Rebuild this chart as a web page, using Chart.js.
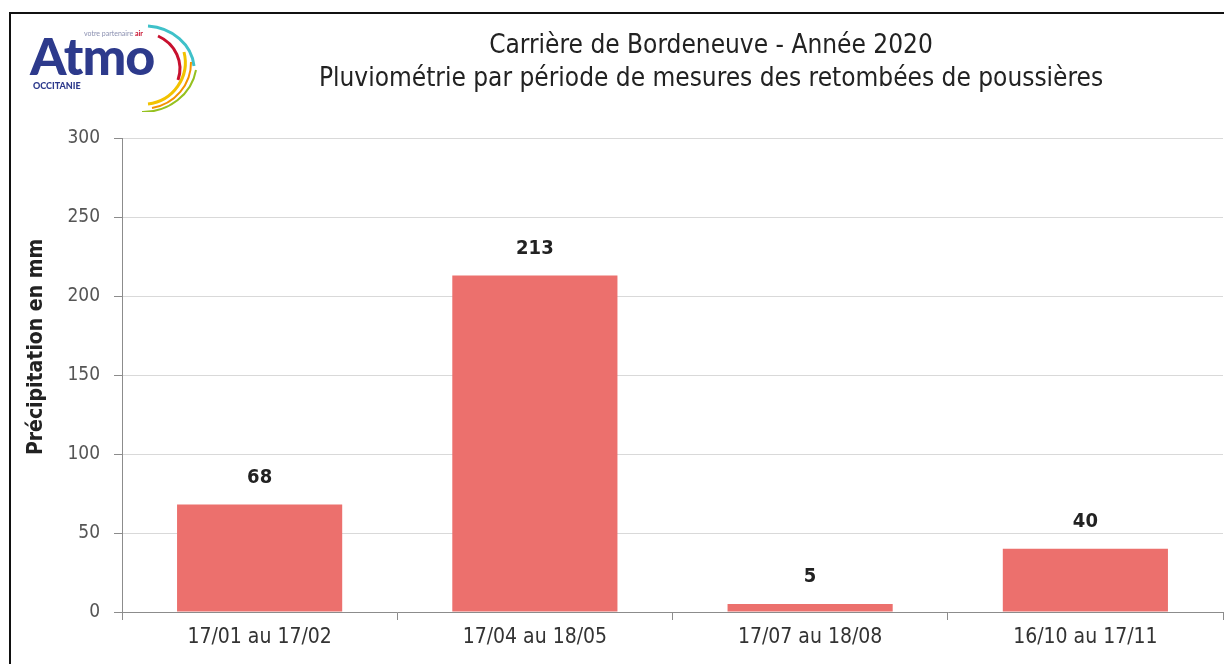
<!DOCTYPE html>
<html>
<head>
<meta charset="utf-8">
<script src="https://cdn.jsdelivr.net/npm/chart.js@4/dist/chart.umd.min.js"></script>
<style>
  html, body { margin: 0; padding: 0; background: #fff; }
  #wrap { position: relative; width: 1224px; height: 664px; overflow: hidden; }
  #frame { position: absolute; left: 9px; top: 12px; width: 1300px; height: 700px;
           border-left: 2px solid #111; border-top: 2px solid #111; }
  #myChart { position: absolute; left: 0; top: 0; }
  #titre { position: absolute; left: 311px; top: 28px; width: 800px; text-align: center;
           font-family: "Liberation Sans Narrow", "Arial Narrow", "DejaVu Sans Condensed", sans-serif;
           font-size: 26px; line-height: 33px; color: #222; }
  #logo { position: absolute; left: 28px; top: 22px; width: 180px; height: 90px; }
  #logo .atmo { position: absolute; left: 2px; top: 2px; font-family: Lato, sans-serif; font-weight: 900;
                font-size: 52px; color: #2d3a8c; letter-spacing: -1px; }
  #logo .occ { position: absolute; left: 5px; top: 58px; font-family: Lato, sans-serif; font-weight: 900;
               font-size: 9px; color: #2d3a8c; }
  #logo .vp { position: absolute; left: 56px; top: 7px; font-family: Lato, sans-serif;
              font-size: 7px; color: #8a8fb0; }
  #logo .vp b { color: #c8102e; }
  #logo svg { position: absolute; left: 0; top: 0; }
</style>
</head>
<body>
<div id="wrap">
  <canvas id="myChart" width="1224" height="664"></canvas>
  <div id="frame"></div>
  <div id="logo">
    <svg width="180" height="90">
      <path d="M 120 4 A 50 44 0 0 1 166 44" fill="none" stroke="#3fc1c9" stroke-width="3"/>
      <path d="M 130 14 A 38 36 0 0 1 150 58" fill="none" stroke="#c8102e" stroke-width="3"/>
      <path d="M 156 30 A 42 42 0 0 1 120 82" fill="none" stroke="#f2c200" stroke-width="3"/>
      <path d="M 163 40 A 48 46 0 0 1 124 86" fill="none" stroke="#f39200" stroke-width="2"/>
      <path d="M 168 48 A 54 50 0 0 1 114 90" fill="none" stroke="#95c11f" stroke-width="2"/>
    </svg>
    <div class="vp">votre partenaire <b>air</b></div>
    <div class="atmo">Atmo</div>
    <div class="occ">OCCITANIE</div>
  </div>
  <div id="titre">Carrière de Bordeneuve - Année 2020<br>Pluviométrie par période de mesures des retombées de poussières</div>
</div>
<script>
var periodes = ['17/01 au 17/02', '17/04 au 18/05', '17/07 au 18/08', '16/10 au 17/11'];
var pluie = [68, 213, 5, 40];
var yTicks = [0, 50, 100, 150, 200, 250, 300];
var titreY = 'Précipitation en mm';

var police = '"Liberation Sans Narrow", "Arial Narrow", "DejaVu Sans Condensed", sans-serif';

// valeurs au-dessus des barres + titre de l'axe Y
var etiquettes = {
    id: 'etiquettes',
    afterDatasetsDraw: function(chart) {
        var ctx = chart.ctx;
        var meta = chart.getDatasetMeta(0);
        ctx.save();
        ctx.font = 'bold 20px ' + police;
        ctx.fillStyle = '#222';
        ctx.textAlign = 'center';
        ctx.textBaseline = 'middle';
        meta.data.forEach(function(bar, i) {
            ctx.fillText(pluie[i], bar.x, bar.y - 27);
        });
        var area = chart.chartArea;
        ctx.translate(37, (area.top + area.bottom) / 2 - 28);
        ctx.rotate(-Math.PI / 2);
        ctx.font = 'bold 21px ' + police;
        ctx.fillText(titreY, 0, 0);
        ctx.restore();
    }
};

var ctx = document.getElementById('myChart').getContext('2d');
var chart = new Chart(ctx, {
    type: 'bar',
    data: {
        labels: periodes,
        datasets: [{
            data: pluie,
            backgroundColor: '#ec706d',
            borderWidth: 0,
            categoryPercentage: 1,
            barPercentage: 0.6
        }]
    },
    options: {
        responsive: false,
        animation: false,
        layout: { padding: { left: 0, right: 1, top: 138, bottom: 0 } },
        plugins: {
            legend: { display: false },
            tooltip: { enabled: false }
        },
        scales: {
            x: {
                afterFit: function(s) { s.height = 52; },
                grid: { drawOnChartArea: false, drawTicks: true, tickLength: 8, color: '#8c8c8c', offset: true },
                border: { color: '#8c8c8c' },
                ticks: { color: '#333', padding: 5, font: { family: police, size: 21 } }
            },
            y: {
                min: 0,
                max: 300,
                afterFit: function(s) { s.width = 122; },
                afterBuildTicks: function(s) { s.ticks = yTicks.map(function(v) { return { value: v }; }); },
                grid: { color: '#d9d9d9', tickColor: '#8c8c8c', tickLength: 8 },
                border: { color: '#8c8c8c' },
                ticks: { color: '#555', padding: 14, font: { family: police, size: 19 } }
            }
        }
    },
    plugins: [etiquettes]
});
</script>
</body>
</html>
